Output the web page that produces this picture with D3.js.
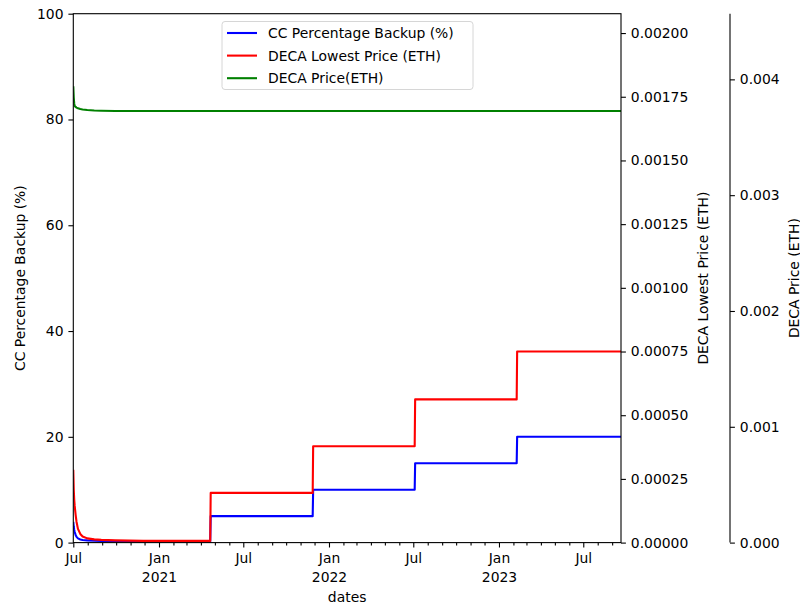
<!DOCTYPE html>
<html>
<head>
<meta charset="utf-8">
<script src="https://cdn.jsdelivr.net/npm/d3@7/dist/d3.min.js"></script>
<style>
  html, body { margin: 0; padding: 0; background: #fff; }
  svg { display: block; font-family: "DejaVu Sans", sans-serif; }
</style>
</head>
<body>
<svg id="chart" width="800" height="607"></svg>
<script>
// Early daily readings after launch
const earlyDates = ["2020-07-01","2020-07-02","2020-07-03","2020-07-04","2020-07-06","2020-07-08",
  "2020-07-11","2020-07-16","2020-07-21","2020-07-31","2020-08-15","2020-08-30","2020-09-29","2020-11-28"];
const backupEarly = [3.9, 3.0, 2.4, 2.0, 1.45, 1.08, 0.8, 0.6, 0.5, 0.42, 0.36, 0.32, 0.28, 0.23];
const lowestEarly = [0.000286, 0.000207, 0.000168, 0.000144, 0.000109, 0.000081, 0.000054,
  0.000034, 0.000024, 0.0000165, 0.0000126, 0.0000106, 0.0000086, 0.0000067];
const priceEarly = [0.00394, 0.00384, 0.00379, 0.00377, 0.003762, 0.003756, 0.00375,
  0.003744, 0.00374, 0.003735, 0.003731, 0.003729, 0.003727, 0.003727];

// Step changes later on
const stepDates = ["2021-04-22", "2021-11-28", "2022-07-05", "2023-02-09"];
const backupLevels = [5, 10, 15, 20];
const lowestLevels = [0.000195, 0.000378, 0.000562, 0.00075];
const priceLevels = [0.003727, 0.003727, 0.003727, 0.003727];
const endDate = "2023-09-20";

// Axis ticks
const leftTicks = [0, 20, 40, 60, 80, 100];
const lowestTicks = [0, 0.00025, 0.0005, 0.00075, 0.001, 0.00125, 0.0015, 0.00175, 0.002];
const priceTicks = [0, 0.001, 0.002, 0.003, 0.004];
const monthNames = ["Jan","Feb","Mar","Apr","May","Jun","Jul","Aug","Sep","Oct","Nov","Dec"];

const seriesNames = ["CC Percentage Backup (%)", "DECA Lowest Price (ETH)", "DECA Price(ETH)"];
const seriesColors = ["blue", "red", "green"];

const parse = d3.utcParse("%Y-%m-%d");

function buildSeries(early, levels) {
  const pts = earlyDates.map((d, i) => ({ date: parse(d), value: early[i] }));
  let prev = early[early.length - 1];
  stepDates.forEach((d, i) => {
    const dt = parse(d);
    pts.push({ date: d3.utcDay.offset(dt, -1), value: prev });
    pts.push({ date: dt, value: levels[i] });
    prev = levels[i];
  });
  pts.push({ date: parse(endDate), value: prev });
  return pts;
}

const backup = buildSeries(backupEarly, backupLevels);
const lowest = buildSeries(lowestEarly, lowestLevels);
const price = buildSeries(priceEarly, priceLevels);

const svg = d3.select("#chart");
const L = 73.3, R = 621, T = 13.7, B = 542.6;
const axis2X = 730;
const FS = "13.9px";

const x = d3.scaleUtc().domain([parse(earlyDates[0]), parse(endDate)]).range([L, R]);
const yLeft = d3.scaleLinear().domain([0, 100]).range([B, T]);
const yLowest = d3.scaleLinear().domain([0, 0.002076]).range([B, T]);
const yPrice = d3.scaleLinear().domain([0, 0.004567]).range([B, T]);

svg.append("defs").append("clipPath").attr("id", "plotClip")
  .append("rect").attr("x", L).attr("y", T).attr("width", R - L).attr("height", B - T);

const plot = svg.append("g").attr("clip-path", "url(#plotClip)");
const lineFor = (yScale) => d3.line().x(d => x(d.date)).y(d => yScale(d.value));

[[backup, yLeft], [lowest, yLowest], [price, yPrice]].forEach(([data, ys], i) => {
  plot.append("path").datum(data)
    .attr("d", lineFor(ys))
    .attr("fill", "none")
    .attr("stroke", seriesColors[i])
    .attr("stroke-width", 2.1)
    .attr("stroke-linejoin", "round");
});

function styleAxis(g) {
  g.selectAll("path.domain").remove();
  g.selectAll(".tick line").attr("stroke", "#000").attr("stroke-width", 1.1);
  g.selectAll(".tick text").attr("fill", "#000").style("font-size", FS)
    .style("font-family", "DejaVu Sans, sans-serif");
}

// Left axis
const gl = svg.append("g").attr("transform", `translate(${L},0)`)
  .call(d3.axisLeft(yLeft).tickValues(leftTicks).tickSize(4.9).tickPadding(4.9).tickFormat(d3.format("d")));
styleAxis(gl);

// Right axis: lowest price
const gr = svg.append("g").attr("transform", `translate(${R},0)`)
  .call(d3.axisRight(yLowest).tickValues(lowestTicks).tickSize(4.9).tickPadding(4.9).tickFormat(d3.format(".5f")));
styleAxis(gr);

// Offset right axis: DECA price
const gp = svg.append("g").attr("transform", `translate(${axis2X},0)`)
  .call(d3.axisRight(yPrice).tickValues(priceTicks).tickSize(4.9).tickPadding(4.9).tickFormat(d3.format(".3f")));
styleAxis(gp);

// Bottom axis: monthly minor ticks, Jan/Jul major ticks
const months = d3.utcMonth.range(parse(earlyDates[0]), d3.utcDay.offset(parse(endDate), 1));
const minor = months.filter(d => d.getUTCMonth() !== 0 && d.getUTCMonth() !== 6);
const major = months.filter(d => d.getUTCMonth() === 0 || d.getUTCMonth() === 6);

const gMinor = svg.append("g").attr("transform", `translate(0,${B})`)
  .call(d3.axisBottom(x).tickValues(minor).tickSize(2.8).tickFormat(""));
styleAxis(gMinor);

const gx = svg.append("g").attr("transform", `translate(0,${B})`)
  .call(d3.axisBottom(x).tickValues(major).tickSize(4.9).tickPadding(5.5)
    .tickFormat(d => monthNames[d.getUTCMonth()]));
styleAxis(gx);
gx.selectAll(".tick").each(function(d) {
  if (d.getUTCMonth() === 0) {
    const t = d3.select(this).select("text");
    t.append("tspan").attr("x", 0).attr("dy", "1.37em").text(d.getUTCFullYear());
  }
});

// Spines
const spine = svg.append("g").attr("stroke", "#000").attr("stroke-width", 1.1).attr("fill", "none");
spine.append("rect").attr("x", L).attr("y", T).attr("width", R - L).attr("height", B - T);
spine.append("line").attr("x1", axis2X).attr("x2", axis2X).attr("y1", T).attr("y2", B);

// Axis titles
svg.append("text").attr("transform", `translate(19.5,${(T + B) / 2}) rotate(-90)`)
  .attr("text-anchor", "middle").attr("dominant-baseline", "central")
  .style("font-size", FS).text("CC Percentage Backup (%)");
svg.append("text").attr("transform", `translate(702.5,${(T + B) / 2}) rotate(-90)`)
  .attr("text-anchor", "middle").attr("dominant-baseline", "central")
  .style("font-size", FS).text("DECA Lowest Price (ETH)");
svg.append("text").attr("transform", `translate(793.5,${(T + B) / 2}) rotate(-90)`)
  .attr("text-anchor", "middle").attr("dominant-baseline", "central")
  .style("font-size", FS).text("DECA Price (ETH)");
svg.append("text").attr("x", (L + R) / 2).attr("y", 597)
  .attr("text-anchor", "middle").attr("dominant-baseline", "central")
  .style("font-size", FS).text("dates");

// Legend
const lg = svg.append("g").attr("transform", "translate(222,21.5)");
lg.append("rect").attr("width", 251).attr("height", 68).attr("rx", 3)
  .attr("fill", "rgba(255,255,255,0.8)").attr("stroke", "#d6d6d6").attr("stroke-width", 1);
seriesNames.forEach((name, i) => {
  const cy = 11.5 + i * 22.6;
  lg.append("line").attr("x1", 5).attr("x2", 35).attr("y1", cy).attr("y2", cy)
    .attr("stroke", seriesColors[i]).attr("stroke-width", 2.1);
  lg.append("text").attr("x", 46).attr("y", cy).attr("dominant-baseline", "central")
    .style("font-size", FS).attr("fill", "#000").text(name);
});
</script>
</body>
</html>
